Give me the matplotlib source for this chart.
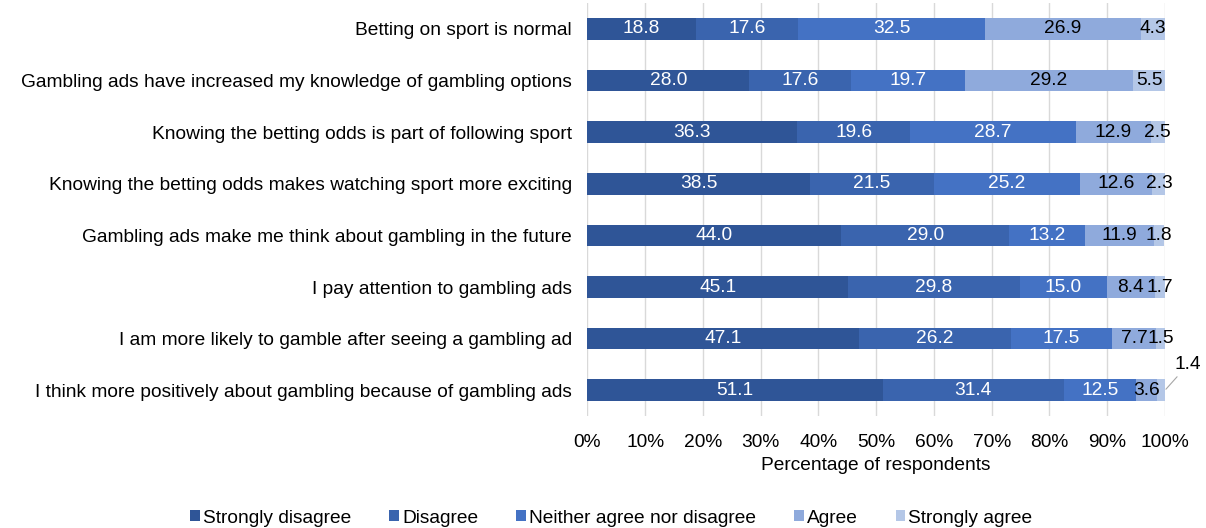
import matplotlib
matplotlib.use("Agg")
import matplotlib.pyplot as plt
import numpy as np

plt.rcParams['font.family'] = ['Liberation Sans', 'DejaVu Sans']

statements = [
    "Betting on sport is normal",
    "Gambling ads have increased my knowledge of gambling options",
    "Knowing the betting odds is part of following sport",
    "Knowing the betting odds makes watching sport more exciting",
    "Gambling ads make me think about gambling in the future",
    "I pay attention to gambling ads",
    "I am more likely to gamble after seeing a gambling ad",
    "I think more positively about gambling because of gambling ads",
]
strongly_disagree = [18.8, 28.0, 36.3, 38.5, 44.0, 45.1, 47.1, 51.1]
disagree = [17.6, 17.6, 19.6, 21.5, 29.0, 29.8, 26.2, 31.4]
neither = [32.5, 19.7, 28.7, 25.2, 13.2, 15.0, 17.5, 12.5]
agree = [26.9, 29.2, 12.9, 12.6, 11.9, 8.4, 7.7, 3.6]
strongly_agree = [4.3, 5.5, 2.5, 2.3, 1.8, 1.7, 1.5, 1.4]

series = [strongly_disagree, disagree, neither, agree, strongly_agree]
names = ["Strongly disagree", "Disagree", "Neither agree nor disagree", "Agree", "Strongly agree"]
colors = ["#2F5597", "#3A64AE", "#4472C4", "#8FAADC", "#B4C7E7"]
text_colors = ["white", "white", "white", "black", "black"]
fs = 13.8

fig = plt.figure(figsize=(12.06, 5.28), dpi=100)
ax = fig.add_axes([0.487, 0.212, 0.479, 0.782])

y = np.arange(len(statements))
left = np.zeros(len(statements))
for vals, name, col, tc in zip(series, names, colors, text_colors):
    vals = np.array(vals)
    ax.barh(y, vals, left=left, height=0.42, color=col, label=name, zorder=3)
    for i, v in enumerate(vals):
        cx = left[i] + v / 2
        if name == "Strongly agree" and i == len(statements) - 1:
            # small last segment: label sits outside with a leader line
            ax.annotate(f"{v:.1f}", xy=(left[i] + v, y[i]), xytext=(104.0, y[i] - 0.5),
                        ha="center", va="center", fontsize=fs, color="black",
                        arrowprops=dict(arrowstyle="-", color="#A6A6A6", lw=0.8,
                                        shrinkA=1, shrinkB=1),
                        annotation_clip=False)
        else:
            ax.text(cx, y[i], f"{v:.1f}", ha="center", va="center", fontsize=fs,
                    color=tc, zorder=4)
    left = left + vals

ax.set_xlim(0, 100)
ax.set_ylim(len(statements) - 0.5, -0.5)
ax.set_yticks(y)
ax.set_yticklabels(statements, fontsize=fs)
ax.set_xticks(np.arange(0, 101, 10))
ax.set_xticklabels([f"{t}%" for t in range(0, 101, 10)], fontsize=fs)
ax.tick_params(axis="x", length=0, pad=13)
ax.tick_params(axis="y", length=0, pad=11)
ax.grid(axis="x", color="#D9D9D9", lw=1, zorder=0)
for s in ax.spines.values():
    s.set_visible(False)
ax.set_xlabel("Percentage of respondents", fontsize=fs, labelpad=4)

ax.legend(loc="lower center", ncol=5, frameon=False,
          fontsize=fs, handlelength=0.5, handleheight=0.5, handletextpad=0.15,
          columnspacing=2.0, bbox_to_anchor=(0.507, -0.03),
          bbox_transform=fig.transFigure)

fig.savefig("out.png", dpi=100)
